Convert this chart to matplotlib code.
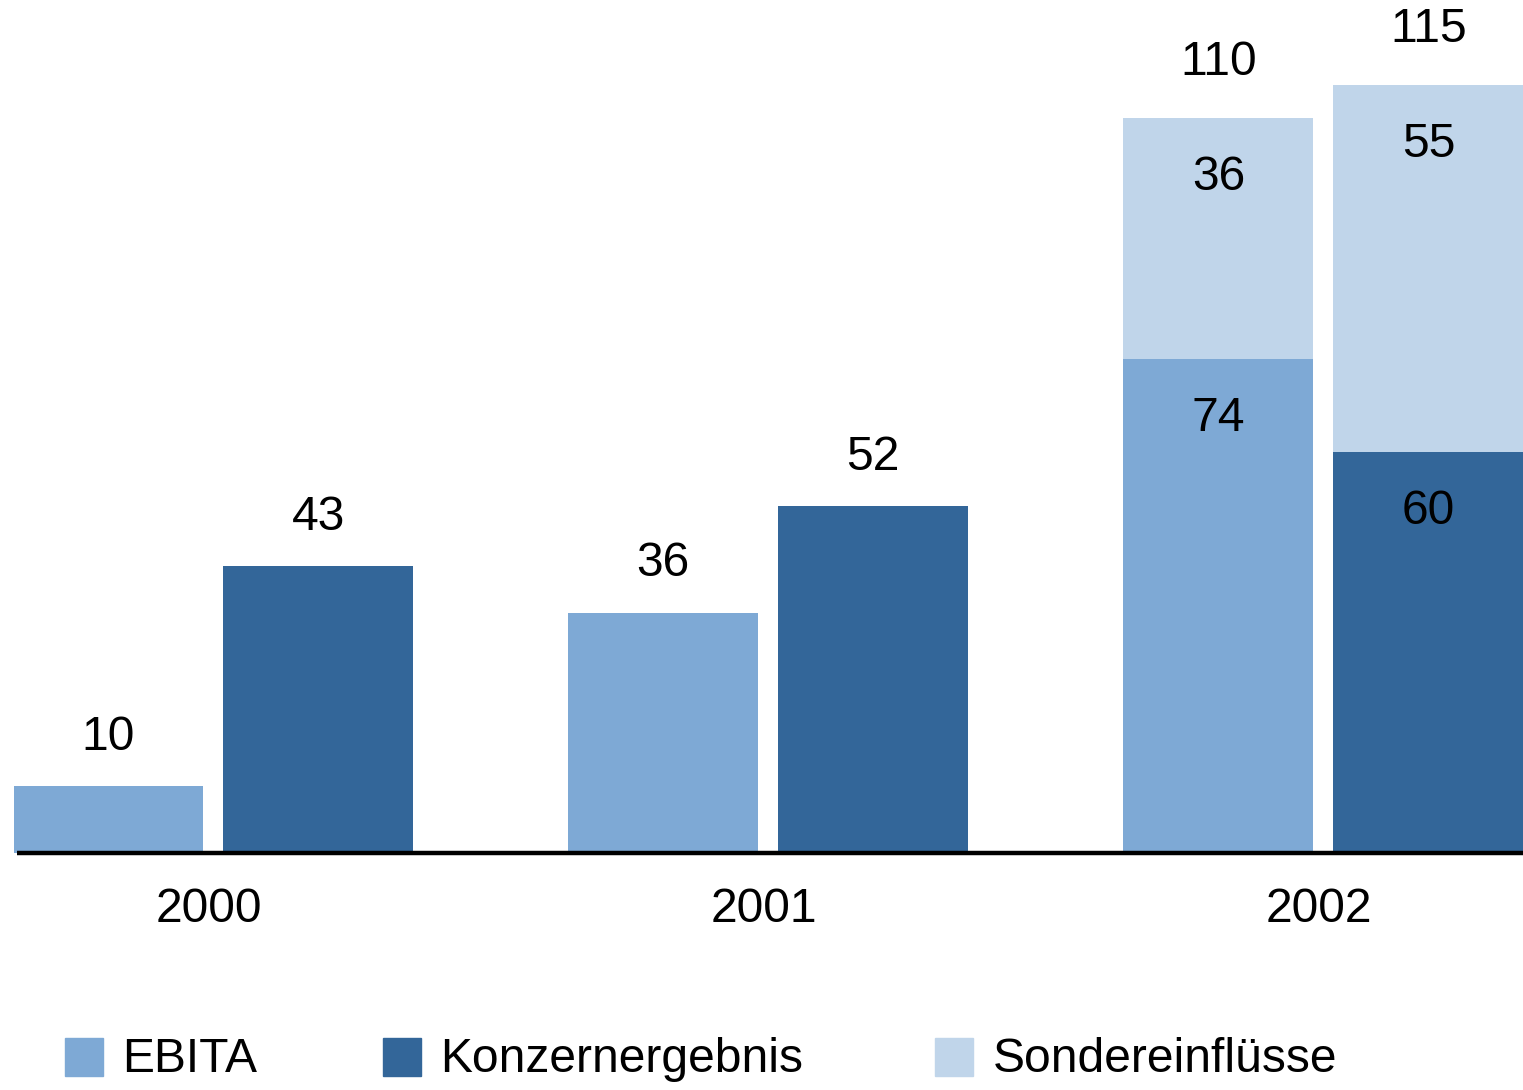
import matplotlib
matplotlib.use("Agg")
import matplotlib.pyplot as plt
from matplotlib.patches import Rectangle

plt.rcParams['font.family'] = ['Liberation Sans', 'DejaVu Sans']

years = ["2000", "2001", "2002"]
ebita = [10, 36, 74]
konzern = [43, 52, 60]
sonder = [0, 0, 36]
sonder_k = [0, 0, 55]
totals_2002 = [110, 115]
legend_labels = ["EBITA", "Konzernergebnis", "Sondereinflüsse"]

c_ebita = "#7EA9D5"
c_konz = "#336699"
c_sond = "#C0D5EA"

W, H = 1523, 1090
fig = plt.figure(figsize=(W / 100, H / 100), dpi=100)
ax = fig.add_axes([14 / W, (H - 853) / H, 1 - 14 / W, 853 / H])
ax.set_xlim(-0.3586, 2.3595)
ax.set_ylim(0, 853 / 6.68)
ax.axis("off")

bw = 190 / 555
off = 105 / 555
fs = 34.6
xs = range(len(years))
for i in xs:
    xe = i - off
    xk = i + off
    ax.bar(xe, ebita[i], width=bw, color=c_ebita)
    ax.bar(xk, konzern[i], width=bw, color=c_konz)
    if sonder[i] or sonder_k[i]:
        ax.bar(xe, sonder[i], bottom=ebita[i], width=bw, color=c_sond)
        ax.bar(xk, sonder_k[i], bottom=konzern[i], width=bw, color=c_sond)
        tops = [ebita[i] + sonder[i], konzern[i] + sonder_k[i]]
        for x, t, tot in zip([xe, xk], tops, totals_2002):
            ax.annotate(str(tot), (x, t), xytext=(0, 40), textcoords="offset points",
                        ha="center", va="center", fontsize=fs)
        for x, b, v in [(xe, ebita[i], sonder[i]), (xk, konzern[i], sonder_k[i]),
                        (xe, 0, ebita[i]), (xk, 0, konzern[i])]:
            ax.annotate(str(v), (x, b + v), xytext=(0, -43), textcoords="offset points",
                        ha="center", va="center", fontsize=fs)
    else:
        for x, v in [(xe, ebita[i]), (xk, konzern[i])]:
            ax.annotate(str(v), (x, v), xytext=(0, 35), textcoords="offset points",
                        ha="center", va="center", fontsize=fs)
    ax.annotate(years[i], (i - 0.008, 0), xytext=(0, -41), textcoords="offset points",
                ha="center", va="center", fontsize=fs, annotation_clip=False)

ax.plot([-0.353, 2.3595], [0, 0], color="black", lw=3.2, clip_on=False, solid_capstyle="butt")

leg = [(65, c_ebita), (383, c_konz), (935, c_sond)]
text_x = [122, 440, 993]
for (sx, col), tx, lab in zip(leg, text_x, legend_labels):
    fig.add_artist(Rectangle((sx / W, (H - 1076) / H), 38 / W, 38 / H,
                             transform=fig.transFigure, color=col))
    fig.text(tx / W, (H - 1060) / H, lab, ha="left", va="center", fontsize=fs)

fig.savefig("out.png", dpi=100)
